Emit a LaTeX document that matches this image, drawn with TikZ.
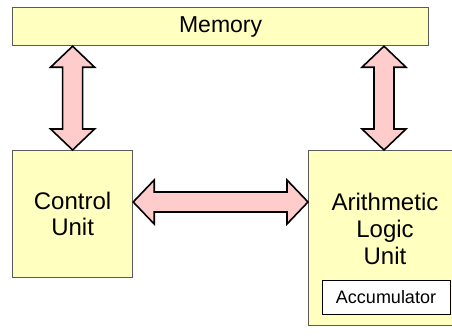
\documentclass[tikz,border=0pt]{standalone}
\usepackage{fontspec}
\setmainfont{Liberation Sans}
\usepackage{tikz}
\usetikzlibrary{calc,positioning}
\definecolor{unityellow}{RGB}{255,255,192}
\definecolor{buspink}{RGB}{255,204,204}
\definecolor{unitgray}{RGB}{90,90,90}

\tikzset{
 unitbox/.style={draw=unitgray,fill=unityellow,line width=1.2pt,inner sep=0pt},
 regbox/.style={draw=black,fill=white,line width=0.8pt,inner sep=0pt},
 fatarrow/.style={draw=black,fill=buspink,line width=1.6pt,line join=miter}
}
% fat double arrows, tip to tip
\newcommand{\busvert}[2]{\draw[fatarrow] (#1) -- ($(#1)+(22,21)$) -- ($(#1)+(10,21)$)
 -- ($(#2)+(10,-21)$) -- ($(#2)+(22,-21)$) -- (#2) -- ($(#2)+(-22,-21)$)
 -- ($(#2)+(-10,-21)$) -- ($(#1)+(-10,21)$) -- ($(#1)+(-22,21)$) -- cycle;}
\newcommand{\bushorz}[2]{\draw[fatarrow] (#1) -- ($(#1)+(21,-22)$) -- ($(#1)+(21,-10)$)
 -- ($(#2)+(-21,-10)$) -- ($(#2)+(-21,-22)$) -- (#2) -- ($(#2)+(-21,22)$)
 -- ($(#2)+(-21,10)$) -- ($(#1)+(21,10)$) -- ($(#1)+(21,22)$) -- cycle;}

\begin{document}
\begin{tikzpicture}[x=1pt,y=-1pt]
\useasboundingbox (0,0) rectangle (452,335);
\node[unitbox,anchor=north west,minimum width=416,minimum height=38,
 font=\fontsize{23}{26}\selectfont] (mem) at (12,7) {Memory};
\node[unitbox,anchor=north west,minimum width=120,minimum height=127,
 align=center,font=\fontsize{24}{26}\selectfont] (ctl) at (12,150) {Control\\Unit};
\node[unitbox,anchor=north west,minimum width=154,minimum height=175] (alu) at (308,150) {};
\node[align=center,font=\fontsize{24}{27}\selectfont] (alutext) at (385,229)
 {Arithmetic\\Logic\\Unit};
\node[regbox,minimum width=128,minimum height=34,
 font=\fontsize{18}{20}\selectfont] (acc) at (386,297) {Accumulator};

\coordinate (ctltop) at (ctl.north);
\coordinate (memleft) at (mem.south -| ctl.north);
\coordinate (alutop) at (384,150);
\coordinate (memright) at (mem.south -| alutop);
\coordinate (ctlside) at (ctl.east |- 0,202);
\coordinate (aluside) at (alu.west |- ctlside);

\busvert{memleft}{ctltop}
\busvert{memright}{alutop}
\bushorz{ctlside}{aluside}
\end{tikzpicture}
\end{document}
